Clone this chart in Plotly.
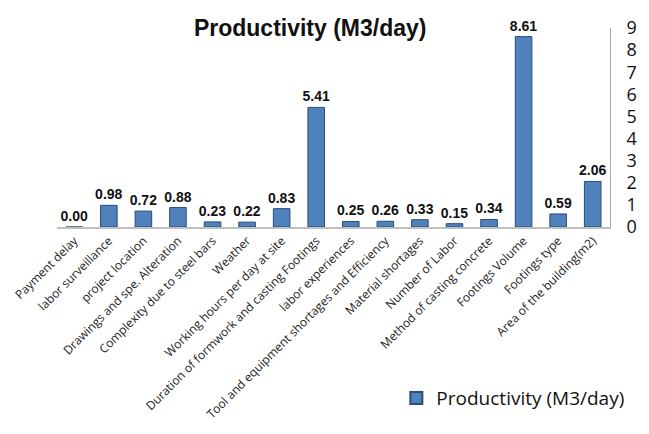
import plotly.graph_objects as go

categories = [
    "Payment delay", "labor surveillance", "project location",
    "Drawings and spe. Alteration", "Complexity due to steel bars", "Weather",
    "Working hours per day at site", "Duration of formwork and casting Footings",
    "labor experiences", "Tool and equipment shortages and Efficiency",
    "Material shortages", "Number of Labor", "Method of casting concrete",
    "Footings Volume", "Footings type", "Area of the building(m2)",
]
productivity = [0.00, 0.98, 0.72, 0.88, 0.23, 0.22, 0.83, 5.41,
                0.25, 0.26, 0.33, 0.15, 0.34, 8.61, 0.59, 2.06]
y_ticks = list(range(0, 10))

fig = go.Figure()
fig.add_trace(go.Bar(
    x=categories, y=productivity,
    name="Productivity (M3/day)",
    marker=dict(color="#4F81BD", line=dict(color="#2C4D75", width=1)),
    width=0.48,
    text=[f"{v:.2f}" for v in productivity],
    textposition="outside",
    constraintext="none",
    textfont=dict(family="Liberation Sans Narrow, Liberation Sans, Arial", size=14, color="#111111", weight="bold"),
    cliponaxis=False,
))

fig.update_layout(
    width=649, height=434,
    margin=dict(l=45, r=30, t=28, b=206),
    paper_bgcolor="white", plot_bgcolor="white",
    title=dict(text="<b>Productivity (M3/day)</b>", x=0.478, xanchor="center",
               y=0.935, yanchor="middle",
               font=dict(family="Liberation Sans Narrow, Liberation Sans, Arial", size=23, color="#111111")),
    showlegend=True,
    legend=dict(orientation="h", x=1.035, xanchor="right", y=-0.86, yanchor="middle",
                font=dict(family="Open Sans, Liberation Sans", size=19, color="#111111"),
                itemsizing="constant"),
    xaxis=dict(tickangle=-45, showline=True, linecolor="#BFBFBF", linewidth=2,
               ticks="", tickfont=dict(family="Open Sans, Liberation Sans", size=12, color="#222222"),
               showgrid=False),
    yaxis=dict(side="right", range=[0, 9], tickvals=y_ticks, showline=True,
               linecolor="#A6A6A6", linewidth=1, showgrid=False, ticks="",
               ticklabelstandoff=12,
               tickfont=dict(family="Open Sans, Liberation Sans", size=18, color="#111111"),
               zeroline=False),
)

fig.write_html("out.html")
